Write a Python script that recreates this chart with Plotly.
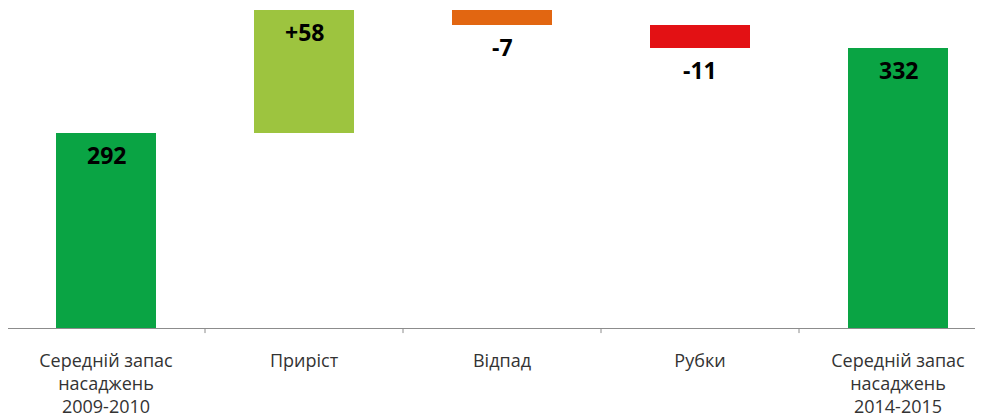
import plotly.graph_objects as go

categories = ["Середній запас<br>насаджень<br>2009-2010", "Приріст", "Відпад", "Рубки",
              "Середній запас<br>насаджень<br>2014-2015"]
values = [292, 58, -7, -11, 332]
kinds = ["total", "relative", "relative", "relative", "total"]
labels = ["292", "+58", "-7", "-11", "332"]
colors = ["#0AA444", "#9DC43F", "#E26611", "#E31114", "#0AA444"]

bases, heights, anchors = [], [], []
running = 0
for v, k in zip(values, kinds):
    if k == "total":
        bases.append(0)
        heights.append(v)
        running = v
        anchors.append(v)
    else:
        if v >= 0:
            bases.append(running)
            heights.append(v)
            anchors.append(running + v)
        else:
            bases.append(running + v)
            heights.append(-v)
            anchors.append(running + v)
        running += v

xs = list(range(len(categories)))
fig = go.Figure()
fig.add_trace(go.Bar(x=xs, y=heights, base=bases, marker=dict(color=colors, line=dict(width=0)),
                     width=0.505, hoverinfo="skip"))

for x, a, t in zip(xs, anchors, labels):
    fig.add_annotation(x=x, y=a, text=t, showarrow=False, yanchor="middle", yshift=-22,
                       font=dict(family="Open Sans", size=23, color="#000000", weight="bold"))

x0 = -0.5 + 1 / 198
x1 = x0 + 983 / 198

fig.update_layout(
    width=983, height=420,
    margin=dict(l=0, r=0, t=2, b=100, autoexpand=False),
    paper_bgcolor="white", plot_bgcolor="white",
    showlegend=False,
    bargap=0,
    font=dict(family="Open Sans", size=18, color="#333333"),
)
fig.update_xaxes(
    tickmode="array", tickvals=xs, ticktext=categories,
    range=[x0, x1],
    showline=True, linecolor="#8C8C8C", linewidth=1,
    ticks="", showgrid=False, zeroline=False,
    automargin=False, ticklabelstandoff=16,
)
fig.update_yaxes(range=[200, 350], visible=False, showgrid=False, automargin=False)

# boundary tick marks
for b in [-0.5, 0.5, 1.5, 2.5, 3.5, 4.5]:
    fig.add_shape(type="line", xref="x", yref="paper", x0=b, x1=b, y0=0, y1=-0.016,
                  line=dict(color="#8C8C8C", width=1))

fig.write_html("out.html")
